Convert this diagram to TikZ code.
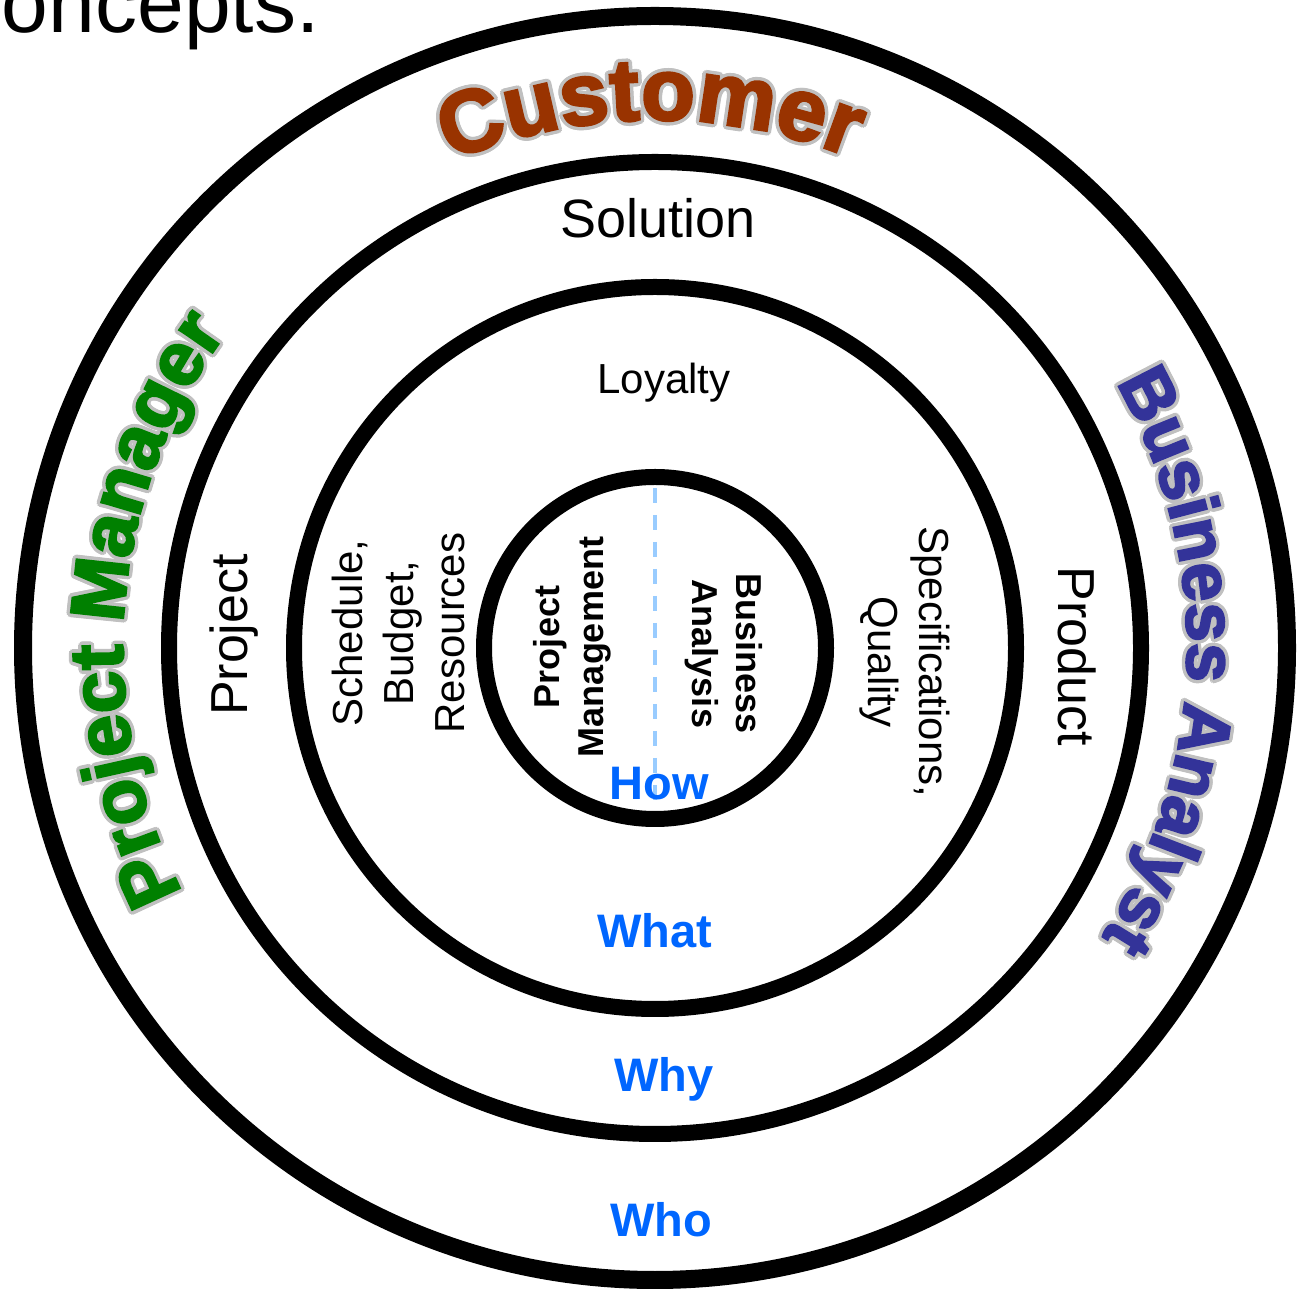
\documentclass[tikz,border=0pt]{standalone}
\usepackage{fontspec}
\setmainfont{Liberation Sans}
\newfontfamily\curvefont{Liberation Sans Bold}[FakeBold=3]
\usetikzlibrary{decorations.text}
\definecolor{custbrown}{RGB}{153,51,0}
\definecolor{pmgreen}{RGB}{0,128,0}
\definecolor{bablue}{RGB}{51,51,153}
\definecolor{olgray}{RGB}{192,192,192}
\definecolor{qblue}{RGB}{0,102,255}
\definecolor{dashblue}{RGB}{153,204,255}
% #1 mid angle, #2 half span, #3 radius, #4 colour, #5 font size, #6 text
\newcommand\ringtext[6]{%
  \foreach \k in {0,30,...,330}{%
    \pgfmathsetmacro\dr{3.4*sin(\k)}%
    \pgfmathsetmacro\sa{#1+#2+3.4*cos(\k)/#3*57.2958}%
    \pgfmathsetmacro\ea{#1-#2+3.4*cos(\k)/#3*57.2958}%
    \path[shift={(O)},decorate,decoration={text along path,text align=center,raise=\dr pt,
      text={|\curvefont\fontsize{#5}{#5}\selectfont\color{olgray}|#6}}]
      (\sa:#3) arc[start angle=\sa, end angle=\ea, radius=#3];
  }%
  \pgfmathsetmacro\sa{#1+#2}%
  \pgfmathsetmacro\ea{#1-#2}%
  \path[shift={(O)},decorate,decoration={text along path,text align=center,
    text={|\curvefont\fontsize{#5}{#5}\selectfont\color{#4}|#6}}]
    (\sa:#3) arc[start angle=\sa, end angle=\ea, radius=#3];
}
\begin{document}
\begin{tikzpicture}[x=1pt,y=1pt,
  every node/.style={inner sep=0pt,outer sep=0pt},
  ring/.style={draw=black,line width=16pt},
  qword/.style={font=\bfseries\fontsize{47}{50}\selectfont,text=qblue,anchor=base},
  bigword/.style={font=\fontsize{52}{60}\selectfont},
  midword/.style={font=\fontsize{42}{51}\selectfont,align=center},
  coreword/.style={font=\bfseries\fontsize{36}{44}\selectfont,align=center}]
\useasboundingbox (0,0) rectangle (1301,1288);
\clip (0,0) rectangle (1301,1288);
\coordinate (O) at (655,640);
% title fragment
\node[anchor=base west,font=\fontsize{84}{86}\selectfont] (title) at (-40,1255) {concepts.};
% rings
\draw[ring,line width=18pt] (O) circle[radius=632];
\draw[ring] (O) circle[radius=486];
\draw[ring] (O) circle[radius=361];
\draw[ring] (O) circle[radius=171];
% dashed divider
\coordinate (dtop) at (655,800);
\coordinate (dbot) at (655,480);
\draw[dashblue,line width=4pt,dash pattern=on 15pt off 12pt] (dtop) -- (dbot);
% curved role labels
\ringtext{90.5}{60}{528}{custbrown}{88}{Customer}
\ringtext{175.5}{70}{532}{pmgreen}{76}{Project Manager}
\ringtext{-1.5}{70}{532}{bablue}{70}{Business Analyst}
% ring labels
\node[font=\fontsize{54}{60}\selectfont,anchor=base] (sol) at (658,1050) {Solution};
\node[font=\fontsize{42}{50}\selectfont,anchor=base] (loy) at (664,894) {Loyalty};
\node[bigword,rotate=90] (proj) at (234,653) {Project};
\node[midword,rotate=90] (sbr) at (398,655) {Schedule,\\Budget,\\Resources};
\node[midword,rotate=-90] (spec) at (905,626) {Specifications,\\Quality};
\node[bigword,rotate=-90] (prod) at (1077,632) {Product};
\node[coreword,rotate=90] (pm) at (572,641) {Project\\Management};
\node[coreword,rotate=-90] (ba) at (724,634) {Business\\Analysis};
% questions
\node[qword] (how) at (659,488) {How};
\node[qword] (what) at (655,340) {What};
\node[qword] (why) at (664,196) {Why};
\node[qword] (who) at (661,52) {Who};
\end{tikzpicture}
\end{document}
